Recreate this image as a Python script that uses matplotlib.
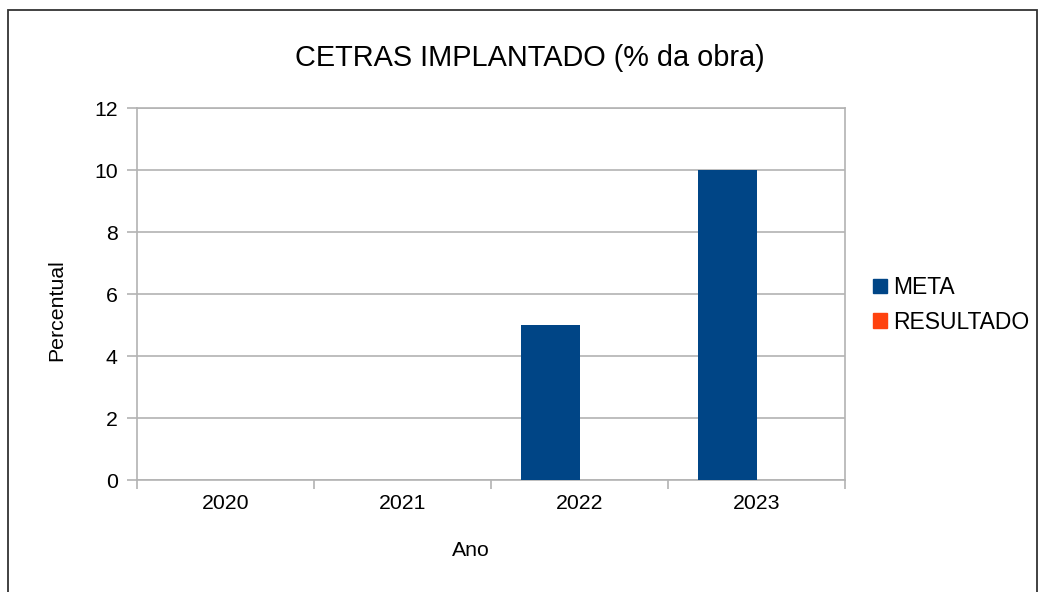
import matplotlib
matplotlib.use("Agg")
import matplotlib.pyplot as plt
from matplotlib.patches import Rectangle
import numpy as np

categories = ["2020", "2021", "2022", "2023"]
meta = [0, 0, 5, 10]
resultado = [0, 0, 0, 0]
series_names = ["META", "RESULTADO"]
yticks = [0, 2, 4, 6, 8, 10, 12]

plt.rcParams['font.family'] = ['Liberation Sans', 'DejaVu Sans']
FS = 15.3
GRID = '#b3b3b3'

W, H = 1041, 592
fig = plt.figure(figsize=(W / 100, H / 100), dpi=100)
fig.patch.set_facecolor('white')

ax = fig.add_axes([137 / W, 1 - 480 / H, 708 / W, 372 / H])
x = np.arange(len(categories))
bw = 1 / 3
ax.bar(x - bw / 2, meta, width=bw, color='#004586', label=series_names[0], zorder=3)
ax.bar(x + bw / 2, resultado, width=bw, color='#ff420e', label=series_names[1], zorder=3)

ax.set_xlim(-0.5, len(categories) - 0.5)
ax.set_ylim(0, 12)
ax.set_yticks(yticks)
ax.set_yticklabels([str(v) for v in yticks])
ax.yaxis.grid(True, color=GRID, linewidth=1.2, zorder=0)
ax.set_axisbelow(True)

ax.set_xticks(np.arange(-0.5, len(categories), 1.0))
ax.set_xticklabels([])
ax.set_xticks(x, minor=True)
ax.set_xticklabels(categories, minor=True)
ax.tick_params(axis='x', which='major', direction='out', length=6.5, width=1.2, color=GRID)
ax.tick_params(axis='x', which='minor', length=0, pad=10, labelsize=FS)
ax.tick_params(axis='y', direction='out', length=7, width=1.2, color=GRID, pad=7, labelsize=FS)

for s in ['left', 'bottom', 'right', 'top']:
    ax.spines[s].set_color(GRID)
    ax.spines[s].set_linewidth(1.2)

fig.text(530 / W, 1 - 58 / H, "CETRAS IMPLANTADO (% da obra)", ha='center', va='center', fontsize=20.8)
fig.text(57 / W, 1 - 310 / H, "Percentual", ha='center', va='center', rotation=90, fontsize=FS)
fig.text(471 / W, 1 - 551 / H, "Ano", ha='center', va='center', fontsize=FS)

handles = [Rectangle((0, 0), 1, 1, color='#004586'), Rectangle((0, 0), 1, 1, color='#ff420e')]
fig.legend(handles, series_names, loc='center left', bbox_to_anchor=(873 / W, 1 - 305 / H),
           frameon=False, fontsize=16.5, handlelength=0.62, handleheight=0.62,
           handletextpad=0.25, labelspacing=0.52, borderaxespad=0, borderpad=0)

border = Rectangle((8 / W, -0.1), (1037 - 8) / W, (1 - 10 / H) + 0.1, transform=fig.transFigure,
                   fill=False, edgecolor='#333333', linewidth=1.3)
fig.patches.append(border)

fig.savefig("out.png", dpi=100)
